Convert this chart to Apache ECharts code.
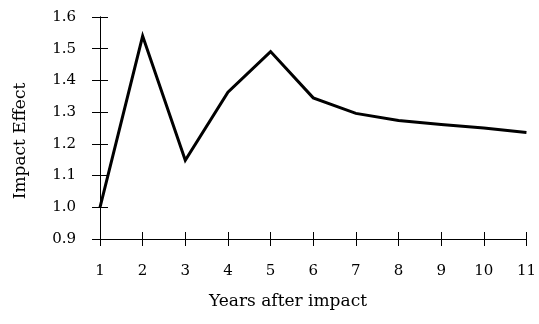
<!DOCTYPE html>
<html>
<head>
<meta charset="utf-8">
<script src="https://cdn.jsdelivr.net/npm/echarts@6/dist/echarts.min.js"></script>
<style>
  html, body { margin: 0; padding: 0; background: #fff; }
  #chart { width: 539px; height: 324px; }
</style>
</head>
<body>
<div id="chart"></div>
<script>
// Years after impact and the corresponding impact effect
const years = [1, 2, 3, 4, 5, 6, 7, 8, 9, 10, 11];
const impactEffect = [1.0, 1.54, 1.148, 1.363, 1.491, 1.345, 1.296, 1.274, 1.261, 1.25, 1.236];
const yTicks = [0.9, 1.0, 1.1, 1.2, 1.3, 1.4, 1.5, 1.6];

const FONT = '"DejaVu Serif", "Liberation Serif", serif';
const INK = '#000';

const chart = echarts.init(document.getElementById('chart'), null, { renderer: 'canvas' });

const baseX = {
  type: 'value', min: years[0], max: years[years.length - 1], interval: 1,
  position: 'bottom',
  axisLine: { show: true, onZero: false, lineStyle: { color: INK, width: 1 } },
  splitLine: { show: false }
};
const baseY = {
  type: 'value', min: yTicks[0], max: yTicks[yTicks.length - 1], interval: 0.1,
  position: 'left',
  axisLine: { show: true, onZero: false, lineStyle: { color: INK, width: 1 } },
  splitLine: { show: false }
};

chart.setOption({
  animation: false,
  backgroundColor: '#fff',
  grid: { left: 100, right: 11, top: 17, bottom: 85 },
  xAxis: [
    Object.assign({}, baseX, {
      axisTick: { show: true, inside: false, length: 7, lineStyle: { color: INK, width: 1 } },
      axisLabel: { show: true, margin: 25, color: INK, fontFamily: FONT, fontSize: 15 }
    }),
    Object.assign({}, baseX, {
      axisTick: { show: true, inside: true, length: 7, lineStyle: { color: INK, width: 1 } },
      axisLabel: { show: false }
    })
  ],
  yAxis: [
    Object.assign({}, baseY, {
      axisTick: { show: true, inside: false, length: 8, lineStyle: { color: INK, width: 1 } },
      axisLabel: {
        show: true, margin: 24, color: INK, fontFamily: FONT, fontSize: 15,
        formatter: v => v.toFixed(1)
      }
    }),
    Object.assign({}, baseY, {
      axisTick: { show: true, inside: true, length: 8, lineStyle: { color: INK, width: 1 } },
      axisLabel: { show: false }
    })
  ],
  graphic: [
    {
      type: 'text', x: 288, y: 302,
      style: {
        text: 'Years after impact', fill: INK, font: '17px ' + FONT,
        textAlign: 'center', textVerticalAlign: 'middle'
      }
    },
    {
      type: 'text', x: 21, y: 141, rotation: Math.PI / 2,
      style: {
        text: 'Impact Effect', fill: INK, font: '17px ' + FONT,
        textAlign: 'center', textVerticalAlign: 'middle'
      }
    }
  ],
  series: [{
    type: 'line',
    xAxisIndex: 0, yAxisIndex: 0,
    data: years.map((x, i) => [x, impactEffect[i]]),
    showSymbol: false,
    symbol: 'none',
    lineStyle: { color: '#000', width: 3, join: 'miter' },
    z: 3
  }]
});
</script>
</body>
</html>
